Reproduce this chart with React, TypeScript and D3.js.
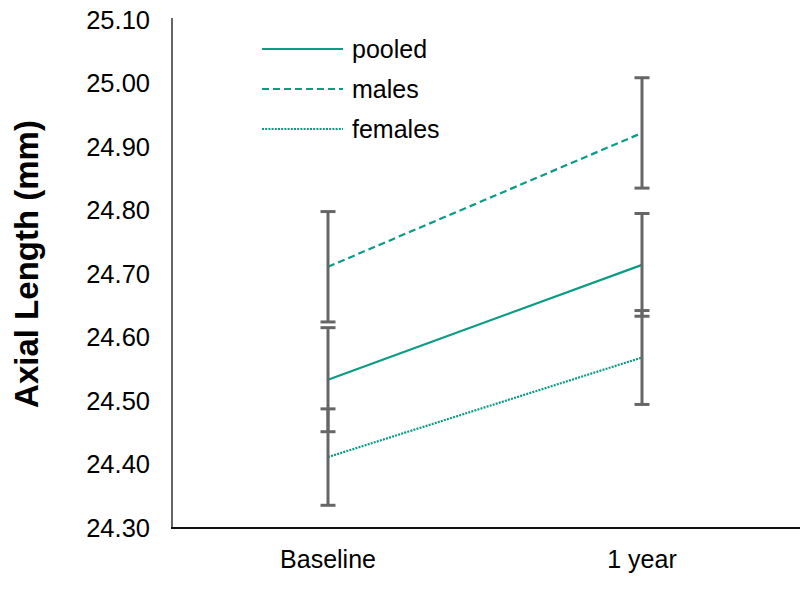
import React from "react";
import * as d3 from "d3";

const categories = ["Baseline", "1 year"];
const yTicks = [24.3, 24.4, 24.5, 24.6, 24.7, 24.8, 24.9, 25.0, 25.1];

const seriesNames = ["pooled", "males", "females"];
const pooledMean = [24.533, 24.714];
const pooledErr = [0.082, 0.081];
const malesMean = [24.711, 24.922];
const malesErr = [0.087, 0.087];
const femalesMean = [24.411, 24.568];
const femalesErr = [0.076, 0.074];

const teal = "#0b9c84";
const barColor = "#666666";
const font = "'Liberation Sans', Arial, sans-serif";

const dashes: Record<string, string | undefined> = {
  pooled: undefined,
  males: "7,4",
  females: "2,1.2",
};

export default function App() {
  const width = 800;
  const height = 593;

  const x = d3.scalePoint<string>().domain(categories).range([171, 799]).padding(0.5);
  const y = d3.scaleLinear().domain([24.3, 25.1]).range([527.5, 20]);

  const series = [
    { name: "pooled", mean: pooledMean, err: pooledErr },
    { name: "males", mean: malesMean, err: malesErr },
    { name: "females", mean: femalesMean, err: femalesErr },
  ];

  const line = d3
    .line<number>()
    .x((_, i) => x(categories[i]) as number)
    .y((d) => y(d));

  const capHalf = 7.5;

  return (
    <svg width={width} height={height} style={{ position: "absolute", left: 0, top: 0 }}>
      <rect width={width} height={height} fill="#fff" />

      {/* axes */}
      <line x1={172} x2={172} y1={18} y2={528} stroke="#333" strokeWidth={1.5} />
      <line x1={171} x2={800} y1={528} y2={528} stroke="#111" strokeWidth={2} />

      {yTicks.map((t) => (
        <text
          key={t}
          x={150}
          y={y(t)}
          textAnchor="end"
          dominantBaseline="central"
          fontFamily={font}
          fontSize={25.5}
          fill="#000"
        >
          {t.toFixed(2)}
        </text>
      ))}

      {categories.map((c) => (
        <text
          key={c}
          x={x(c)}
          y={559}
          textAnchor="middle"
          dominantBaseline="central"
          fontFamily={font}
          fontSize={25}
          fill="#000"
        >
          {c}
        </text>
      ))}

      <text
        transform={`translate(26,264) rotate(-90)`}
        textAnchor="middle"
        dominantBaseline="central"
        fontFamily={font}
        fontWeight="bold"
        fontSize={33}
        fill="#000"
      >
        Axial Length (mm)
      </text>

      {/* series lines */}
      {series.map((s) => (
        <path
          key={s.name}
          d={line(s.mean) as string}
          fill="none"
          stroke={teal}
          strokeWidth={2.2}
          strokeDasharray={dashes[s.name]}
        />
      ))}

      {/* error bars */}
      {series.map((s) =>
        s.mean.map((m, i) => {
          const cx = x(categories[i]) as number;
          const top = y(m + s.err[i]);
          const bot = y(m - s.err[i]);
          return (
            <g key={s.name + i} stroke={barColor} strokeWidth={3}>
              <line x1={cx} x2={cx} y1={top} y2={bot} />
              <line x1={cx - capHalf} x2={cx + capHalf} y1={top} y2={top} />
              <line x1={cx - capHalf} x2={cx + capHalf} y1={bot} y2={bot} />
            </g>
          );
        })
      )}

      {/* legend */}
      {seriesNames.map((n, i) => {
        const ly = 49 + i * 40;
        return (
          <g key={n}>
            <line
              x1={262}
              x2={343}
              y1={ly}
              y2={ly}
              stroke={teal}
              strokeWidth={2}
              strokeDasharray={dashes[n]}
            />
            <text
              x={352}
              y={ly}
              dominantBaseline="central"
              fontFamily={font}
              fontSize={25}
              fill="#000"
            >
              {n}
            </text>
          </g>
        );
      })}
    </svg>
  );
}
